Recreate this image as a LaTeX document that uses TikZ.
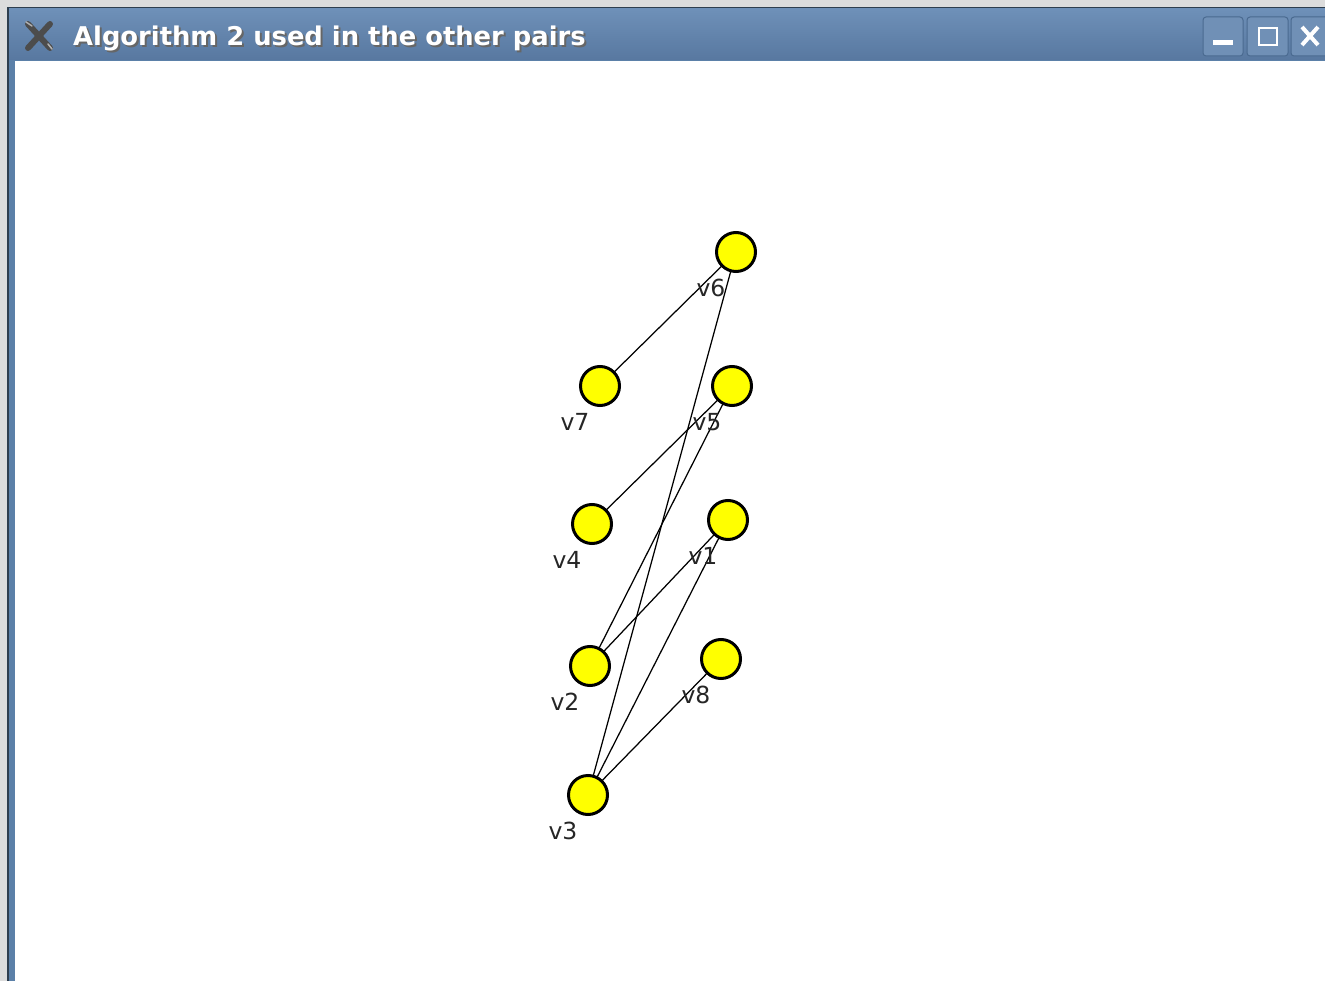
\documentclass[tikz,border=0pt]{standalone}
\usepackage{fontspec}
\setmainfont{DejaVu Sans}
\usetikzlibrary{calc}
\begin{document}
\begin{tikzpicture}[x=1pt,y=-1pt,
  vertex/.style={circle,draw=black,line width=3pt,fill=vyellow,minimum size=39pt,inner sep=0pt},
  vlabel/.style={font=\fontsize{23.5}{23.5}\selectfont,text=black!85,inner sep=0pt},
  edge/.style={draw=black,line width=1.25pt},
  winbtn/.style={draw=winborder,fill=winbtnfill,rounded corners=3pt,line width=1pt},
  titletext/.style={font=\bfseries\fontsize{25.8}{25.8}\selectfont,inner sep=0pt,anchor=base west}]
\definecolor{vyellow}{RGB}{255,255,0}
\definecolor{winborder}{HTML}{4A6A90}
\definecolor{winbtnfill}{HTML}{7090B6}
\definecolor{wintop}{HTML}{6E90B8}
\definecolor{winbottom}{HTML}{5878A0}
\definecolor{framedark}{HTML}{2E3E4E}
\definecolor{frameblue}{HTML}{5B80A8}
\definecolor{desk}{HTML}{DCDCDC}
\useasboundingbox (0,0) rectangle (1325,981);
% desktop and window frame
\fill[desk] (0,0) rectangle (1325,981);
\fill[framedark] (7,7) rectangle (1325,981);
\fill[frameblue] (9,9) rectangle (1325,981);
\shade[top color=wintop,bottom color=winbottom] (9,9) rectangle (1325,60);
\fill[white] (15,61) rectangle (1325,981);
% window icon
\draw[line width=6pt,color=black!70,line cap=round] (28,24) -- (50,48);
\draw[line width=6pt,color=black!70,line cap=round] (50,24) -- (28,48);
\draw[line width=1.5pt,color=black!30,line cap=round] (26,22) -- (32,26);
\draw[line width=1.5pt,color=black!30,line cap=round] (48,44) -- (52,49);
% title
\node[titletext,text=black!60] (titleshadow) at (75,48) {Algorithm 2 used in the other pairs};
\node[titletext,text=white] (title) at (73,46) {Algorithm 2 used in the other pairs};
% buttons
\draw[winbtn] (1203,17) rectangle (1243,56);
\draw[winbtn] (1247,17) rectangle (1288,56);
\draw[winbtn] (1291,17) rectangle (1335,56);
\fill[white] (1213,40) rectangle (1233,45);
\draw[white,line width=2.2pt] (1259,28) rectangle (1277,45);
\draw[white,line width=4pt] (1302,27) -- (1318,45);
\draw[white,line width=4pt] (1318,27) -- (1302,45);
% vertices
\coordinate (c6) at (736,252);
\coordinate (c7) at (600,386);
\coordinate (c5) at (732,386);
\coordinate (c4) at (592,524);
\coordinate (c1) at (728,520);
\coordinate (c2) at (590,666);
\coordinate (c8) at (721,659);
\coordinate (c3) at (588,795);
% edges
\draw[edge] (c6) -- (c7);
\draw[edge] (c6) -- (c3);
\draw[edge] (c5) -- (c4);
\draw[edge] (c5) -- (c2);
\draw[edge] (c1) -- (c2);
\draw[edge] (c1) -- (c3);
\draw[edge] (c8) -- (c3);
\foreach \v in {1,...,8} {
  \node[vertex] (v\v) at (c\v) {};
  \node[vlabel] (l\v) at ($(c\v)+(-25,36)$) {v\v};
}
\end{tikzpicture}
\end{document}
